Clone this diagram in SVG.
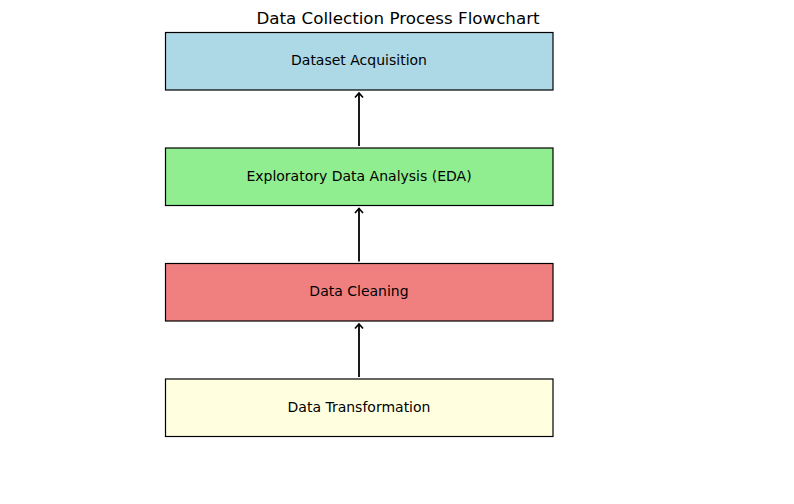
<svg xmlns="http://www.w3.org/2000/svg" width="794" height="504" viewBox="0 0 794 504">
<style>
.box{stroke:#000;stroke-width:1.2}
.lbl{font-family:"DejaVu Sans",sans-serif;font-size:14px;fill:#000;text-anchor:middle;dominant-baseline:central}
.title{font-family:"DejaVu Sans",sans-serif;font-size:16.7px;fill:#000;text-anchor:middle}
.arr{stroke:#000;stroke-width:1.8;fill:none}
</style>
<defs>
<marker id="ah" markerWidth="12" markerHeight="12" refX="6" refY="6" orient="auto" markerUnits="userSpaceOnUse">
<path d="M1.5,2 L6,6 L1.5,10" fill="none" stroke="#000" stroke-width="1.7"/>
</marker>
</defs>
<rect width="794" height="504" fill="#fff"/>
<text class="title" x="398" y="24">Data Collection Process Flowchart</text>
<g id="node-acquisition"><rect class="box" x="165.5" y="32.5" width="387.5" height="57.5" fill="#add8e6"/><text class="lbl" x="359" y="60">Dataset Acquisition</text></g>
<g id="node-eda"><rect class="box" x="165.5" y="148" width="387.5" height="57.5" fill="#90ee90"/><text class="lbl" x="359" y="176">Exploratory Data Analysis (EDA)</text></g>
<g id="node-cleaning"><rect class="box" x="165.5" y="263.5" width="387.5" height="57.5" fill="#f08080"/><text class="lbl" x="359" y="291">Data Cleaning</text></g>
<g id="node-transformation"><rect class="box" x="165.5" y="379" width="387.5" height="57.5" fill="#ffffe0"/><text class="lbl" x="359" y="407">Data Transformation</text></g>
<g id="connectors">
<line class="arr" x1="359" y1="146" x2="359" y2="93" marker-end="url(#ah)"/>
<line class="arr" x1="359" y1="261.5" x2="359" y2="208.5" marker-end="url(#ah)"/>
<line class="arr" x1="359" y1="377" x2="359" y2="324" marker-end="url(#ah)"/>
</g>
</svg>
